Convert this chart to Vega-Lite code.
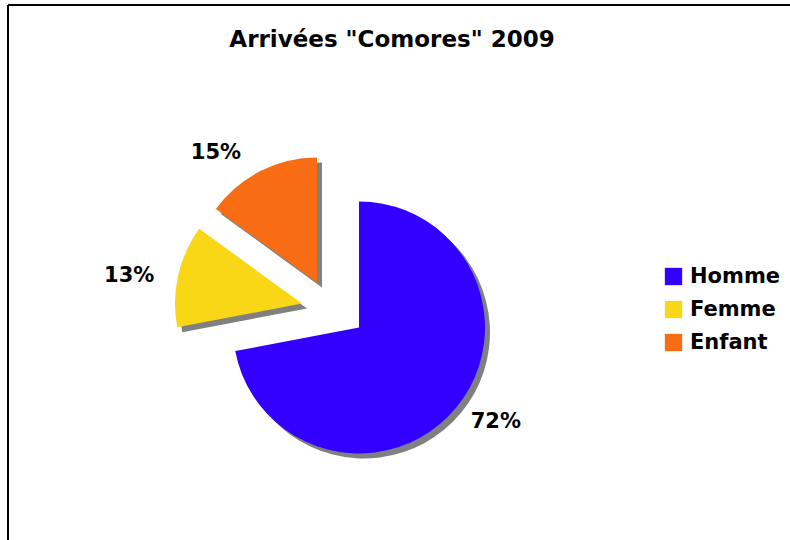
{
  "$schema": "https://vega.github.io/schema/vega-lite/v6.json",
  "autosize": {"type": "none"},
  "width": 792,
  "height": 545,
  "padding": {"left": 8, "top": 5, "right": -10, "bottom": -10},
  "background": "white",
  "title": {
    "text": "Arrivées \"Comores\" 2009",
    "font": "DejaVu Sans",
    "fontSize": 23,
    "fontWeight": "bold",
    "color": "black",
    "anchor": "middle",
    "frame": "group",
    "baseline": "alphabetic",
    "offset": -66,
    "dx": -12
  },
  "config": {
    "view": {"stroke": null},
    "font": "DejaVu Sans"
  },
  "data": {
    "values": [
      {"slice": "Homme", "value": 72, "label": "72%"},
      {"slice": "Femme", "value": 13, "label": "13%"},
      {"slice": "Enfant", "value": 15, "label": "15%"}
    ]
  },
  "transform": [
    {"stack": "value", "groupby": [], "as": ["v0", "v1"]}
  ],
  "layer": [
    {
      "mark": {"type": "rule", "color": "black", "strokeWidth": 2},
      "encoding": {"x": {"value": 0}, "y": {"value": 0}, "y2": {"value": "height"}}
    },
    {
      "mark": {"type": "rule", "color": "black", "strokeWidth": 2},
      "encoding": {"y": {"value": 0}, "x": {"value": 0}, "x2": {"value": "width"}}
    },
    {
      "transform": [{"filter": "datum.slice === 'Homme'"}],
      "mark": {"type": "arc", "radius": 126, "xOffset": -40, "yOffset": 55, "fill": "#808080"},
      "encoding": {
        "theta": {"field": "v0", "type": "quantitative", "scale": {"domain": [0, 100]}},
        "theta2": {"field": "v1"}
      }
    },
    {
      "transform": [{"filter": "datum.slice === 'Femme'"}],
      "mark": {"type": "arc", "radius": 127, "xOffset": -97, "yOffset": 31, "fill": "#808080"},
      "encoding": {
        "theta": {"field": "v0", "type": "quantitative", "scale": {"domain": [0, 100]}},
        "theta2": {"field": "v1"}
      }
    },
    {
      "transform": [{"filter": "datum.slice === 'Enfant'"}],
      "mark": {"type": "arc", "radius": 125, "xOffset": -82, "yOffset": 10, "fill": "#808080"},
      "encoding": {
        "theta": {"field": "v0", "type": "quantitative", "scale": {"domain": [0, 100]}},
        "theta2": {"field": "v1"}
      }
    },
    {
      "transform": [{"filter": "datum.slice === 'Homme'"}],
      "mark": {"type": "arc", "radius": 126, "xOffset": -45, "yOffset": 50},
      "encoding": {
        "theta": {"field": "v0", "type": "quantitative", "scale": {"domain": [0, 100]}},
        "theta2": {"field": "v1"},
        "color": {
          "field": "slice", "type": "nominal",
          "scale": {"domain": ["Homme", "Femme", "Enfant"], "range": ["#3300FF", "#F9D616", "#F86C14"]},
          "legend": {
            "title": null, "orient": "none", "legendX": 655, "legendY": 261,
            "symbolType": "square", "symbolSize": 300, "symbolStrokeWidth": 0, "symbolOpacity": 1,
            "labelFont": "DejaVu Sans", "labelFontSize": 21, "labelFontWeight": "bold", "labelColor": "black",
            "labelOffset": 6, "rowPadding": 11, "padding": 0
          }
        }
      }
    },
    {
      "transform": [{"filter": "datum.slice === 'Femme'"}],
      "mark": {"type": "arc", "radius": 127, "xOffset": -102, "yOffset": 26},
      "encoding": {
        "theta": {"field": "v0", "type": "quantitative", "scale": {"domain": [0, 100]}},
        "theta2": {"field": "v1"},
        "color": {"field": "slice", "type": "nominal"}
      }
    },
    {
      "transform": [{"filter": "datum.slice === 'Enfant'"}],
      "mark": {"type": "arc", "radius": 125, "xOffset": -87, "yOffset": 5},
      "encoding": {
        "theta": {"field": "v0", "type": "quantitative", "scale": {"domain": [0, 100]}},
        "theta2": {"field": "v1"},
        "color": {"field": "slice", "type": "nominal"}
      }
    },
    {
      "transform": [{"filter": "datum.slice === 'Homme'"}],
      "mark": {"type": "text", "radius": 166, "thetaOffset": 2.173, "xOffset": -45, "yOffset": 50,
               "font": "DejaVu Sans", "fontSize": 21, "fontWeight": "bold", "color": "black"},
      "encoding": {
        "theta": {"field": "v0", "type": "quantitative", "scale": {"domain": [0, 100]}},
        "text": {"field": "label"}
      }
    },
    {
      "transform": [{"filter": "datum.slice === 'Femme'"}],
      "mark": {"type": "text", "radius": 175, "thetaOffset": 0.349, "xOffset": -102, "yOffset": 26,
               "font": "DejaVu Sans", "fontSize": 21, "fontWeight": "bold", "color": "black"},
      "encoding": {
        "theta": {"field": "v0", "type": "quantitative", "scale": {"domain": [0, 100]}},
        "text": {"field": "label"}
      }
    },
    {
      "transform": [{"filter": "datum.slice === 'Enfant'"}],
      "mark": {"type": "text", "radius": 164, "thetaOffset": 0.279, "xOffset": -87, "yOffset": 5,
               "font": "DejaVu Sans", "fontSize": 21, "fontWeight": "bold", "color": "black"},
      "encoding": {
        "theta": {"field": "v0", "type": "quantitative", "scale": {"domain": [0, 100]}},
        "text": {"field": "label"}
      }
    }
  ]
}
